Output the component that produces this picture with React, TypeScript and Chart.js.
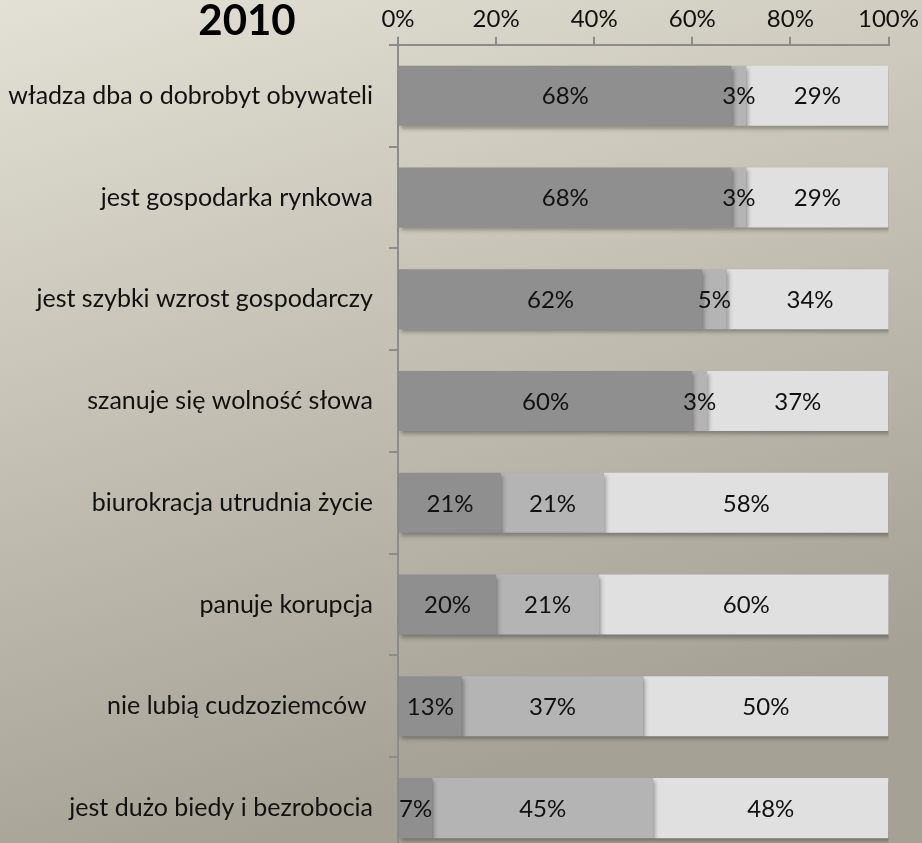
import React, { useEffect, useRef } from "react";
import { Chart, registerables } from "chart.js";

Chart.register(...registerables);

const titleText = "2010";
const categories = [
  "władza dba o dobrobyt obywateli",
  "jest gospodarka rynkowa",
  "jest szybki wzrost gospodarczy",
  "szanuje się wolność słowa",
  "biurokracja utrudnia życie",
  "panuje korupcja",
  "nie lubią cudzoziemców ",
  "jest dużo biedy i bezrobocia",
];
const seriesA = [68, 68, 62, 60, 21, 20, 13, 7];
const seriesB = [3, 3, 5, 3, 21, 21, 37, 45];
const seriesC = [29, 29, 34, 37, 58, 60, 50, 48];
const xTicks = [0, 20, 40, 60, 80, 100];
const colors = ["#8f8f8f", "#b4b4b4", "#e0e0e0"];

const FONT = "Lato";

const bgPlugin = {
  id: "bg",
  beforeDraw(chart: any) {
    const ctx = chart.ctx;
    const g = ctx.createLinearGradient(0, 0, 250, 843);
    g.addColorStop(0, "#e3e0d5");
    g.addColorStop(0.5, "#c4c0b3");
    g.addColorStop(1, "#a5a195");
    ctx.save();
    ctx.fillStyle = g;
    ctx.fillRect(0, 0, chart.width, chart.height);
    ctx.restore();
  },
};

const shadowPlugin = {
  id: "barShadow",
  beforeDatasetsDraw(chart: any) {
    const ctx = chart.ctx;
    ctx.save();
    ctx.shadowColor = "rgba(0,0,0,0.3)";
    ctx.shadowBlur = 4;
    ctx.shadowOffsetX = 2;
    ctx.shadowOffsetY = 3;
  },
  afterDatasetsDraw(chart: any) {
    chart.ctx.restore();
  },
};

const labelPlugin = {
  id: "labels",
  afterDraw(chart: any) {
    const ctx = chart.ctx;
    ctx.save();
    ctx.fillStyle = "#111";
    ctx.font = `24px ${FONT}`;
    ctx.textAlign = "center";
    ctx.textBaseline = "middle";
    chart.data.datasets.forEach((ds: any, di: number) => {
      const meta = chart.getDatasetMeta(di);
      meta.data.forEach((el: any, i: number) => {
        const v = ds.data[i];
        const cx = (el.x + el.base) / 2;
        ctx.fillText(`${v}%`, cx, el.y + 1);
      });
    });
    ctx.font = `bold 42px ${FONT}`;
    ctx.fillStyle = "#000";
    ctx.fillText(titleText, 247, 21);
    ctx.restore();
  },
};

export default function App() {
  const ref = useRef<HTMLCanvasElement>(null);
  useEffect(() => {
    document.body.style.margin = "0";
    const chart = new Chart(ref.current!, {
      type: "bar",
      data: {
        labels: categories,
        datasets: [seriesA, seriesB, seriesC].map((d, i) => ({
          data: d,
          backgroundColor: colors[i],
          borderWidth: 0,
          barPercentage: 0.59,
          categoryPercentage: 1,
        })),
      },
      options: {
        indexAxis: "y",
        responsive: false,
        animation: false,
        layout: { padding: { top: 2, right: 32, bottom: 2, left: 0 } },
        plugins: { legend: { display: false }, tooltip: { enabled: false } },
        scales: {
          x: {
            position: "top",
            stacked: true,
            min: 0,
            max: 100,
            afterBuildTicks: (s: any) => {
              s.ticks = xTicks.map((v) => ({ value: v }));
            },
            ticks: {
              callback: (v: any) => `${v}%`,
              color: "#111",
              font: { family: FONT, size: 24 },
              padding: 3,
              maxRotation: 0,
            },
            grid: {
              drawOnChartArea: false,
              drawTicks: true,
              tickLength: 8,
              color: "#8c8c8c",
              lineWidth: 2,
            },
            border: { color: "#8c8c8c", width: 2 },
          },
          y: {
            stacked: true,
            afterFit: (s: any) => {
              s.width = 398;
            },
            ticks: {
              color: "#111",
              font: { family: FONT, size: 25 },
              padding: 16,
            },
            grid: {
              drawOnChartArea: false,
              drawTicks: true,
              tickLength: 9,
              color: "#8c8c8c",
              lineWidth: 2,
              offset: true,
            },
            border: { color: "#8c8c8c", width: 2 },
          },
        },
      },
      plugins: [bgPlugin, shadowPlugin, labelPlugin],
    });
    return () => chart.destroy();
  }, []);
  return (
    <div
      style={{
        position: "fixed",
        left: 0,
        top: 0,
        width: 922,
        height: 843,
        overflow: "hidden",
      }}
    >
      <canvas ref={ref} width={922} height={890} style={{ display: "block" }} />
    </div>
  );
}
